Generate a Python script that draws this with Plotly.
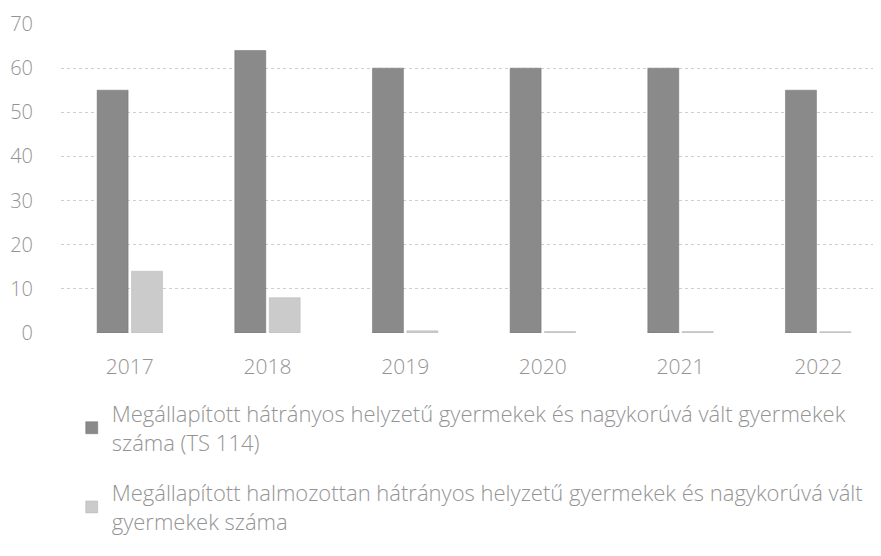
import plotly.graph_objects as go

# data
years = ["2017", "2018", "2019", "2020", "2021", "2022"]
hh_counts = [55, 64, 60, 60, 60, 55]
hhh_counts = [14, 8, 0.5, 0.35, 0.35, 0.3]
hh_name = "Megállapított hátrányos helyzetű gyermekek és nagykorúvá vált gyermekek<br>száma (TS 114)"
hhh_name = "Megállapított halmozottan hátrányos helyzetű gyermekek és nagykorúvá vált<br>gyermekek száma"
y_ticks = [0, 10, 20, 30, 40, 50, 60, 70]

text_grey = "#949494"

fig = go.Figure()
fig.add_bar(x=years, y=hh_counts, name=hh_name, legendgroup="a",
            marker=dict(color="#8a8a8a", line=dict(color="#6f6f6f", width=0.5)))
fig.add_bar(x=years, y=hhh_counts, name=hhh_name, legendgroup="b",
            marker=dict(color="#cbcbcb", line=dict(color="#b5b5b5", width=0.5)))

# page body has an 8px margin, so margins are offset accordingly
fig.update_layout(
    width=881, height=556,
    margin=dict(l=49, r=2, t=14, b=231),
    paper_bgcolor="white", plot_bgcolor="white",
    barmode="group", bargap=0.5, bargroupgap=0.1,
    font=dict(family="Open Sans, Lato, sans-serif", size=20, color=text_grey, weight=300),
    showlegend=True,
    legend=dict(
        orientation="v", x=0.013, xanchor="left", y=-0.193, yanchor="top",
        font=dict(size=22, color=text_grey, weight=300),
        tracegroupgap=19, itemwidth=30, traceorder="grouped",
    ),
)
fig.update_xaxes(showline=False, ticks="", tickfont=dict(size=21), ticklabelstandoff=19)
fig.update_yaxes(range=[0, 70], tickvals=y_ticks, showgrid=True,
                 gridcolor="#cfcfcf", griddash="dot", gridwidth=1,
                 zeroline=False, showline=False, ticklabelstandoff=27,
                 ticklabeloverflow="allow", tickfont=dict(size=20))

fig.write_html("out.html")
